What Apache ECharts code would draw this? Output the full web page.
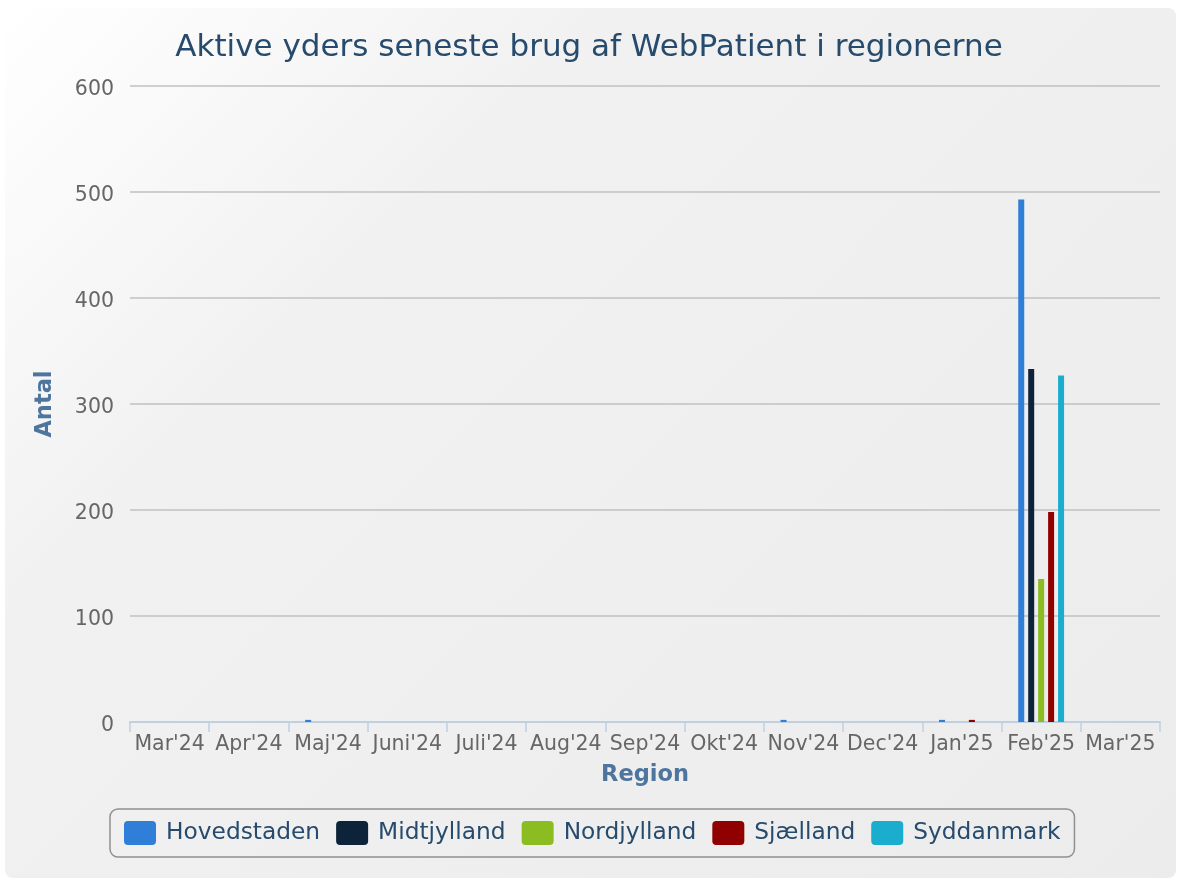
<!DOCTYPE html>
<html>
<head>
<meta charset="utf-8">
<script src="https://cdn.jsdelivr.net/npm/echarts@6/dist/echarts.min.js"></script>
<style>
html,body{margin:0;padding:0;background:#fff;overflow:hidden;}
#card{position:absolute;left:5px;top:8px;width:1171px;height:870px;border-radius:8px;
 background:linear-gradient(135deg,#ffffff 0%,#f1f1f1 30%,#ececec 100%);}
#chart{position:absolute;left:0;top:0;width:1178px;height:881px;}
</style>
</head>
<body>
<div id="card"></div>
<div id="chart"></div>
<script>
const categories = ["Mar'24","Apr'24","Maj'24","Juni'24","Juli'24","Aug'24","Sep'24","Okt'24","Nov'24","Dec'24","Jan'25","Feb'25","Mar'25"];
const hovedstaden = [0,0,2,0,0,0,0,0,2,0,2,493,0];
const midtjylland = [0,0,0,0,0,0,0,0,0,0,0,333,0];
const nordjylland = [0,0,0,0,0,0,0,0,0,0,0,135,0];
const sjaelland   = [0,0,0,0,0,0,0,0,0,0,2,198,0];
const syddanmark  = [0,0,0,0,0,0,0,0,0,0,0,327,0];
const yTicks = [0,100,200,300,400,500,600];

const seriesDefs = [
  {name:'Hovedstaden', data:hovedstaden, color:'#2f7ed8'},
  {name:'Midtjylland', data:midtjylland, color:'#0d233a'},
  {name:'Nordjylland', data:nordjylland, color:'#8bbc21'},
  {name:'Sjælland', data:sjaelland, color:'#910000'},
  {name:'Syddanmark', data:syddanmark, color:'#1aadce'}
];
const FONT = "'DejaVu Sans', sans-serif";
const chart = echarts.init(document.getElementById('chart'), null, {renderer:'canvas'});
chart.setOption({
  animation:false,
  textStyle:{fontFamily:FONT},
  title:{
    text:'Aktive yders seneste brug af WebPatient i regionerne',
    left:'center', top:27,
    textStyle:{fontFamily:FONT, fontSize:31, fontWeight:'normal', color:'#274b6d'}
  },
  grid:{left:130, right:18, top:86, bottom:159, containLabel:false},
  legend:{
    left:110, top:809,
    padding:[12,14,12,14],
    itemWidth:32, itemHeight:24, itemGap:16,
    icon:'path://M4,0 L28,0 Q32,0 32,4 L32,20 Q32,24 28,24 L4,24 Q0,24 0,20 L0,4 Q0,0 4,0 Z',
    borderColor:'#909090', borderWidth:1.5, borderRadius:8,
    textStyle:{fontFamily:FONT, fontSize:23.3, color:'#274b6d', padding:[3,0,0,5]},
    data:seriesDefs.map(s=>s.name)
  },
  xAxis:{
    type:'category',
    data:categories,
    name:'Region', nameLocation:'middle', nameGap:42,
    nameTextStyle:{fontFamily:FONT, fontSize:22.5, fontWeight:'bold', color:'#4d759e'},
    axisLine:{show:true, lineStyle:{color:'#c0d0e0', width:2}},
    axisTick:{show:true, length:10, lineStyle:{color:'#c0d0e0', width:1.5}},
    axisLabel:{fontFamily:FONT, fontSize:20.5, color:'#666', margin:12, interval:0}
  },
  yAxis:{
    type:'value', min:0, max:600, interval:100,
    name:'Antal', nameLocation:'middle', nameGap:73, nameRotate:90,
    nameTextStyle:{fontFamily:FONT, fontSize:22.5, fontWeight:'bold', color:'#4d759e'},
    axisLine:{show:false}, axisTick:{show:false},
    axisLabel:{fontFamily:FONT, fontSize:20.5, color:'#666', margin:16, verticalAlign:'top', lineHeight:22, padding:[-7,0,0,0],
      formatter:v=>yTicks.includes(v)?String(v):''},
    splitLine:{lineStyle:{color:'#c0c0c0', width:1.5}}
  },
  series: seriesDefs.map(s=>({
    name:s.name, type:'bar', data:s.data,
    barWidth:6, barGap:'66%',
    itemStyle:{color:s.color},
    emphasis:{disabled:true}
  }))
});
</script>
</body>
</html>
